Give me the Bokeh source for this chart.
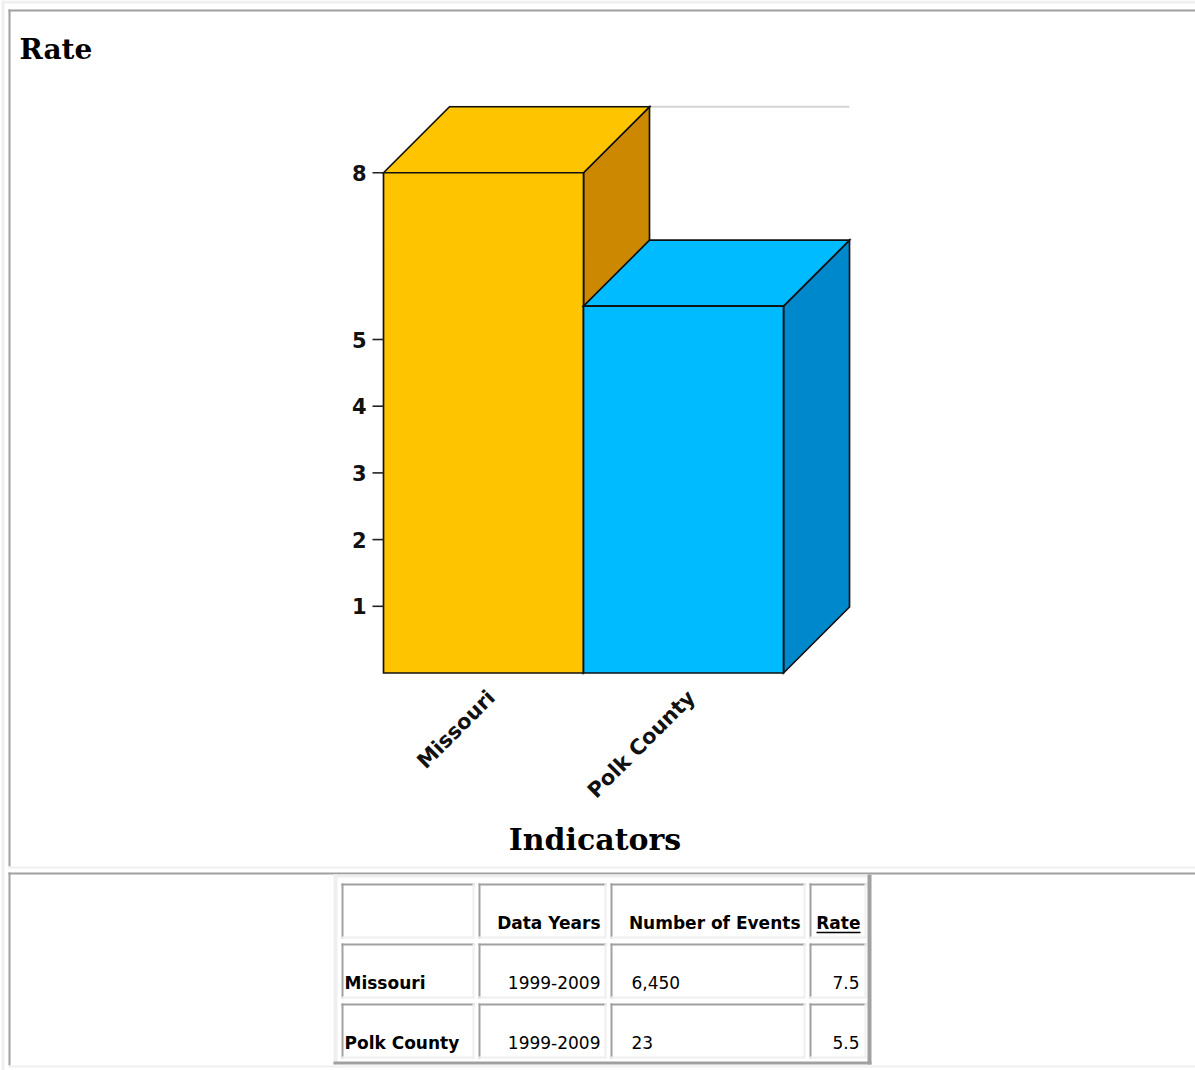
import numpy as np
from bokeh.plotting import figure
from bokeh.models import Range1d
from bokeh.core.properties import value
from bokeh.embed import file_html
from bokeh.resources import INLINE

# ---------------- data ----------------
categories = ["Missouri", "Polk County"]
rates = [7.5, 5.5]
front_colors = ["#FFC400", "#00BBFF"]
side_colors = ["#CC8800", "#0088CC"]
tick_values = [1, 2, 3, 4, 5, 7.5]
tick_labels = ["1", "2", "3", "4", "5", "8"]
table_headers = ["", "Data Years", "Number of Events", "Rate"]
data_years = ["1999-2009", "1999-2009"]
events = ["6,450", "23"]
rate_text = ["7.5", "5.5"]

# ---------------- geometry (pixels) ----------------
W, H = 1195, 1070
UNIT_X = 200.0      # px per category
UNIT_Y = 66.7       # px per rate unit
X0_PX = 383.0       # px of x = -0.5
Y0_PX = 672.5       # px (from top) of y = 0
DX = 66.0 / UNIT_X  # depth offset in data units
DY = 66.0 / UNIT_Y

x_start = -0.5 - X0_PX / UNIT_X
x_end = x_start + W / UNIT_X
y_end = Y0_PX / UNIT_Y
y_start = y_end - H / UNIT_Y

p = figure(width=W, height=H,
           x_range=Range1d(x_start, x_end), y_range=Range1d(y_start, y_end),
           x_axis_location=None, y_axis_location=None,
           output_backend="svg", toolbar_location=None, min_border=0)
p.grid.visible = False
p.outline_line_color = None
p.background_fill_color = "white"
p.border_fill_color = "white"
p.extra_x_ranges = {"px": Range1d(0, W)}
p.extra_y_ranges = {"py": Range1d(H, 0)}

DARK = "#a0a0a0"
LIGHT = "#efefef"


def box(l, r, t, b, color):
    p.quad(left=[l], right=[r], top=[t], bottom=[b], fill_color=color,
           line_color=None, x_range_name="px", y_range_name="py")


# outer page table border
box(2, W, 0, 3, LIGHT)
box(1, 4, 0, H, LIGHT)
# page frame boxes
box(8, W, 9, 11, DARK)          # chart box top
box(8, 10, 9, 866, DARK)        # chart box left
box(8, W, 866, 868, LIGHT)      # chart box bottom
box(8, W, 872, 874, DARK)       # table box top
box(8, 10, 872, 1065, DARK)     # table box left
box(8, W, 1065, 1067, LIGHT)    # table box bottom

# data table outer (outset)
box(333, 871, 874, 877, LIGHT)
box(333, 337, 874, 1064, LIGHT)
box(333, 871, 1061, 1064, DARK)
box(867, 871, 874, 1064, DARK)

col_edges = [(341, 474), (478, 606), (610, 805), (809, 866)]
row_edges = [(883, 938), (943, 998), (1003, 1058)]
for (cl, cr) in col_edges:
    for (rt, rb) in row_edges:
        box(cl, cr, rt, rt + 2, DARK)
        box(cl, cl + 2, rt, rb, DARK)
        box(cl, cr, rb - 2, rb, LIGHT)
        box(cr - 2, cr, rt, rb, LIGHT)

# table texts
tfont = value("DejaVu Sans")
TS = "17px"
hdr_x = [600, 800, 860]
p.text(x=hdr_x, y=[922] * 3, text=table_headers[1:], text_font=tfont,
       text_font_size=TS, text_font_style="bold", text_align="right",
       text_baseline="alphabetic", text_color="black",
       x_range_name="px", y_range_name="py")
# underline for the Rate link
p.segment(x0=[816], y0=[932], x1=[860], y1=[932], line_color="black",
          line_width=1.6, x_range_name="px", y_range_name="py")
row_base = [982, 1042]
p.text(x=[344] * 2, y=row_base, text=categories, text_font=tfont,
       text_font_size=TS, text_font_style="bold", text_align="left",
       text_baseline="alphabetic", text_color="black",
       x_range_name="px", y_range_name="py")
p.text(x=[600] * 2, y=row_base, text=data_years, text_font=tfont,
       text_font_size=TS, text_align="right", text_baseline="alphabetic",
       text_color="black", x_range_name="px", y_range_name="py")
p.text(x=[631] * 2, y=row_base, text=events, text_font=tfont,
       text_font_size=TS, text_align="left", text_baseline="alphabetic",
       text_color="black", x_range_name="px", y_range_name="py")
p.text(x=[859] * 2, y=row_base, text=rate_text, text_font=tfont,
       text_font_size=TS, text_align="right", text_baseline="alphabetic",
       text_color="black", x_range_name="px", y_range_name="py")

# headings
hfont = value("DejaVu Serif")
p.text(x=[19], y=[49], text=["Rate"], text_font=hfont, text_font_size="28px",
       text_font_style="bold", text_align="left", text_baseline="alphabetic",
       text_color="black", x_range_name="px", y_range_name="py")
p.text(x=[594.5], y=[839], text=["Indicators"], text_font=hfont,
       text_font_size="30px", text_font_style="bold", text_align="center",
       text_baseline="alphabetic", text_color="black",
       x_range_name="px", y_range_name="py")

# ---------------- 3D bar chart (data space) ----------------
n = len(categories)
# back-wall gridline at the top tick
p.segment(x0=[-0.5 + DX], y0=[tick_values[-1] + DY],
          x1=[n - 0.5 + DX], y1=[tick_values[-1] + DY],
          line_color="#d4d4d4", line_width=2)

xs, ys, fills = [], [], []
for i, (v, fc, sc) in enumerate(zip(rates, front_colors, side_colors)):
    l, r = i - 0.5, i + 0.5
    # side face
    xs.append([r, r + DX, r + DX, r]); ys.append([0, DY, v + DY, v]); fills.append(sc)
    # top face
    xs.append([l, l + DX, r + DX, r]); ys.append([v, v + DY, v + DY, v]); fills.append(fc)
    # front face
    xs.append([l, l, r, r]); ys.append([0, v, v, 0]); fills.append(fc)
p.patches(xs=xs, ys=ys, fill_color=fills, line_color="#111111", line_width=1.7,
          line_join="miter")

# y ticks and labels
cfont = value("DejaVu Sans")
p.ray(x=[-0.5] * len(tick_values), y=tick_values, length=11, angle=np.pi,
      length_units="screen", line_color="#222222", line_width=1.6)
p.text(x=[-0.5 - 17 / UNIT_X] * len(tick_values), y=tick_values, text=tick_labels,
       text_font=cfont, text_font_size="21px", text_font_style="bold",
       text_align="right", text_baseline="middle", text_color="#111111")

# category labels (rotated)
p.text(x=[i + 8 / UNIT_X for i in range(n)], y=[-21 / UNIT_Y] * n, text=categories,
       angle=np.pi / 4, text_font=cfont, text_font_size="21px",
       text_font_style="bold", text_align="right", text_baseline="middle",
       text_color="#111111")

open("out.html", "w").write(file_html(p, INLINE))
